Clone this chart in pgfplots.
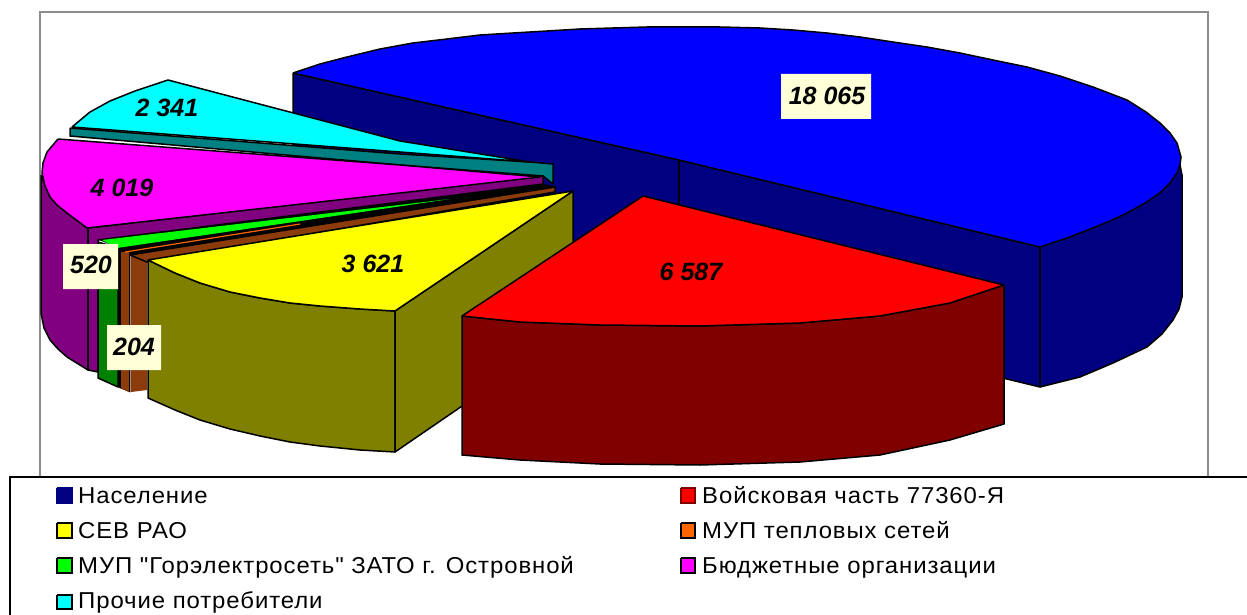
\documentclass[border=0pt]{standalone}
\usepackage{fontspec}
\setmainfont{Liberation Sans}
\newfontfamily\legf{Liberation Sans}[FakeStretch=1.04,LetterSpace=4]
\usepackage{pgfplots}
\pgfplotsset{compat=1.18}
\definecolor{dblue}{HTML}{000080}
\definecolor{blue1}{HTML}{0000FF}
\definecolor{dred}{HTML}{800000}
\definecolor{red1}{HTML}{FF0000}
\definecolor{olive1}{HTML}{808000}
\definecolor{yellow1}{HTML}{FFFF00}
\definecolor{brown1}{HTML}{8C3C0A}
\definecolor{orange1}{HTML}{FF6600}
\definecolor{purple1}{HTML}{800080}
\definecolor{magenta1}{HTML}{FF00FF}
\definecolor{dgreen}{HTML}{008000}
\definecolor{green1}{HTML}{00FF00}
\definecolor{teal1}{HTML}{008080}
\definecolor{cyan1}{HTML}{00FFFF}
\definecolor{lbl}{HTML}{FFFFD8}
\newcommand\poly[2]{\addplot[draw=black,fill=#1,line width=1.5pt,line join=round] coordinates {#2};}
\newcommand\mk[3]{\addplot[draw=#1,fill=#2,line width=2.2pt,line join=miter] coordinates {#3};}
\newcommand\plain[2]{\addplot[draw=none,fill=#1] coordinates {#2};}
\newcommand\val[3]{\node[font=\fontsize{25}{25}\selectfont\bfseries\itshape,text=black,inner sep=0pt] at (axis cs:#1,#2) {#3};}
\newcommand\leg[3]{\node[font=\fontsize{23}{24}\legf,anchor=base west,inner sep=0pt] at (axis cs:#1,#2) {#3};}
\begin{document}
\begin{tikzpicture}
\begin{axis}[scale only axis,width=1247pt,height=615pt,xmin=0,xmax=1247,ymin=0,ymax=615,y dir=reverse,hide axis,no markers,clip=true]
\plain{white}{(0,0)(1247,0)(1247,615)(0,615)(0,0)}
% frame
\addplot[draw=gray!90,line width=2pt] coordinates {(40,477)(40,12)(1208,12)(1208,477)};
% blue slice
\poly{dblue}{(293,73)(679,160)(679,300)(293,212)(293,73)}
\poly{dblue}{(679,160)(1040,247)(1040,387)(679,300)(679,160)}
\poly{dblue}{(1180,165)(1182,175)(1182,297)(1179,309)(1173,320)(1162,334)(1147,347)(1130,355)(1113,363)(1080,377)(1040,387)(1040,247)(1180,165)}
\poly{blue1}{(293,73)(320,64)(347,57)(380,49)(413,43)(447,39)(480,35)(513,33)(547,31)(580,29)(613,28)(647,27)(680,27)(720,27)(760,28)(793,30)(827,33)(860,37)(893,42)(927,47)(960,53)(993,60)(1027,67)(1060,76)(1093,87)(1127,100)(1146,112)(1160,123)(1170,133)(1177,143)(1181,157)(1180,165)(1177,173)(1170,183)(1160,193)(1145,203)(1127,213)(1110,221)(1093,228)(1067,238)(1040,247)(679,160)(293,73)}
% cyan
\poly{teal1}{(70,128)(400,154)(530,162)(553,164)(553,184)(543,176)(400,165)(70,136)(70,128)}
\poly{cyan1}{(72,127)(90,112)(110,101)(135,91)(168,80)(400,141)(530,162)(400,152)(72,127)}
\plain{cyan1}{(136,92)(205,92)(205,124)(136,124)(136,92)}
% purple
\poly{purple1}{(41,175)(41,313)(44,328)(50,340)(58,349)(67,357)(88,370)(88,228)(67,213)(50,197)(41,175)}
\poly{purple1}{(88,228)(543,176)(543,184)(98,240)(98,372)(88,370)(88,228)}
\poly{magenta1}{(58,139)(400,165)(540,177)(400,193)(87,228)(67,213)(57,205)(50,197)(45,186)(42,173)(43,163)(47,152)(58,139)}
% green
\addplot[draw=black,fill=black,line width=0.5pt] coordinates {(100,240)(543,184)(555,187)(130,255)(130,392)(118,387)(117,247)(100,240)};
\poly{dgreen}{(98,242)(118,248)(118,387)(98,378)(98,242)}
\addplot[draw=none,fill=green1] coordinates {(102,240)(450,199)(117,248)(102,240)};
% brown
\plain{brown1}{(121,252)(129,252)(129,392)(121,388)(121,252)}
\plain{brown1}{(131,256)(147,256)(147,390)(131,392)(131,256)}
\addplot[draw=black,fill=brown1,line width=1.5pt] coordinates {(130,255)(555,187)(555,192)(147,262)(130,255)};
\addplot[draw=orange1,line width=1.2pt] coordinates {(125,252)(300,224)};
% yellow
\poly{olive1}{(148,260)(148,398)(175,410)(200,420)(230,429)(260,436)(290,442)(320,446)(360,450)(395,452)(395,311)(360,309)(320,306)(290,303)(260,298)(230,292)(200,283)(175,273)(148,260)}
\poly{olive1}{(395,311)(573,191)(573,330)(395,452)(395,311)}
\poly{yellow1}{(148,260)(573,191)(395,311)(360,309)(320,306)(290,303)(260,298)(230,292)(200,283)(175,273)(148,260)}
% red
\poly{dred}{(462,316)(462,455)(520,460)(600,464)(700,465)(800,462)(880,455)(950,440)(1004,424)(1004,285)(950,303)(880,316)(800,323)(700,326)(600,325)(520,322)(462,316)}
\poly{red1}{(643,196)(1004,285)(950,303)(880,316)(800,323)(700,326)(600,325)(520,322)(462,316)(643,196)}
% labels
\plain{lbl}{(781,74)(871,74)(871,119)(781,119)(781,74)}
\plain{lbl}{(63,244)(118,244)(118,289)(63,289)(63,244)}
\plain{lbl}{(107,325)(161,325)(161,370)(107,370)(107,325)}
\val{827}{96}{18 065}
\val{691}{272}{6 587}
\val{373}{264}{3 621}
\val{122}{188}{4 019}
\val{167}{108}{2 341}
\val{91}{265}{520}
\val{134}{347}{204}
% legend
\plain{white}{(0,478)(1247,478)(1247,615)(0,615)(0,478)}
\addplot[draw=black,line width=2pt] coordinates {(10,615)(10,477)(1247,477)};
\mk{dblue}{dblue}{(57,488)(72,488)(72,503)(57,503)(57,488)}
\mk{black}{yellow1}{(57,523)(72,523)(72,538)(57,538)(57,523)}
\mk{black}{green1}{(57,558)(72,558)(72,573)(57,573)(57,558)}
\mk{black}{cyan1}{(57,595)(72,595)(72,609)(57,609)(57,595)}
\mk{dred}{red1}{(681,488)(695,488)(695,503)(681,503)(681,488)}
\mk{black}{orange1}{(681,523)(695,523)(695,538)(681,538)(681,523)}
\mk{black}{magenta1}{(681,558)(695,558)(695,573)(681,573)(681,558)}
\leg{78}{503}{Население}
\leg{78}{538}{СЕВ РАО}
\leg{78}{573}{МУП "Горэлектросеть" ЗАТО г. Островной}
\leg{78}{608}{Прочие потребители}
\leg{702}{503}{Войсковая часть 77360-Я}
\leg{702}{538}{МУП тепловых сетей}
\leg{702}{573}{Бюджетные организации}
\end{axis}
\end{tikzpicture}
\end{document}
